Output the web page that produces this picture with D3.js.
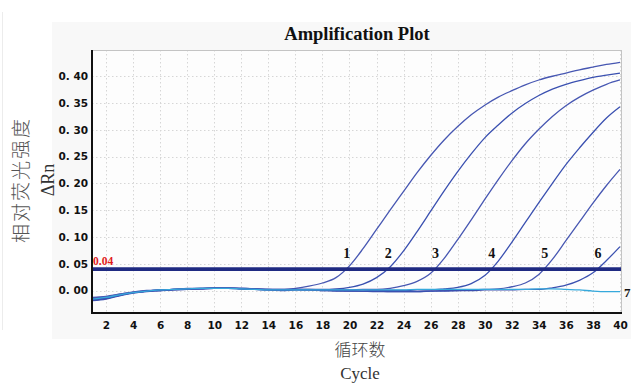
<!DOCTYPE html>
<html>
<head>
<meta charset="utf-8">
<script src="https://cdn.jsdelivr.net/npm/d3@7/dist/d3.min.js"></script>
<style>
  html, body { margin: 0; padding: 0; background: #ffffff; }
  svg { display: block; }
</style>
</head>
<body>
<svg id="chart" width="631" height="383"></svg>
<script>
// Amplification curves, ΔRn per cycle (cycles 1..40)
const cycles = d3.range(1, 41);
const sample1 = [-0.013,-0.011,-0.007,-0.003,-0.001,0.001,0.002,0.003,0.003,0.004,0.004,0.003,0.002,0.002,0.002,0.004,0.008,0.014,0.024,0.046,0.078,0.114,0.150,0.185,0.220,0.252,0.281,0.306,0.328,0.346,0.361,0.373,0.384,0.393,0.400,0.406,0.412,0.417,0.422,0.426];
const sample2 = [-0.019,-0.016,-0.010,-0.005,-0.002,0.000,0.001,0.002,0.003,0.004,0.004,0.004,0.003,0.002,0.001,0.002,0.002,0.002,0.003,0.006,0.012,0.024,0.044,0.074,0.110,0.148,0.186,0.222,0.255,0.285,0.309,0.331,0.349,0.364,0.376,0.385,0.392,0.398,0.402,0.406];
const sample3 = [-0.015,-0.013,-0.008,-0.004,-0.001,0.001,0.002,0.003,0.004,0.005,0.005,0.003,0.002,0.001,0.001,0.002,0.002,0.001,0.001,0.001,0.002,0.002,0.004,0.009,0.017,0.032,0.060,0.095,0.132,0.170,0.207,0.242,0.274,0.301,0.325,0.345,0.361,0.374,0.385,0.393];
const sample4 = [-0.017,-0.014,-0.009,-0.004,-0.001,0.000,0.002,0.003,0.004,0.004,0.004,0.004,0.003,0.002,0.002,0.002,0.001,0.000,0.000,-0.001,-0.001,0.000,0.000,0.000,0.001,0.001,0.003,0.006,0.013,0.028,0.055,0.090,0.127,0.164,0.200,0.235,0.266,0.295,0.322,0.343];
const sample5 = [-0.014,-0.012,-0.007,-0.003,0.000,0.001,0.002,0.004,0.004,0.005,0.005,0.004,0.003,0.001,0.000,0.001,0.001,0.000,-0.001,-0.001,-0.001,-0.001,-0.002,-0.002,-0.002,-0.001,0.000,0.000,0.001,0.002,0.003,0.007,0.014,0.030,0.058,0.093,0.128,0.163,0.196,0.226];
const sample6 = [-0.018,-0.015,-0.009,-0.004,-0.001,0.000,0.001,0.002,0.003,0.004,0.004,0.003,0.002,0.001,0.001,0.001,0.001,0.001,0.000,0.000,-0.001,-0.002,-0.002,-0.002,-0.002,-0.001,-0.001,0.000,0.000,0.001,0.001,0.001,0.002,0.002,0.005,0.010,0.019,0.033,0.056,0.082];
const sample7 = [-0.016,-0.013,-0.008,-0.004,-0.001,0.001,0.002,0.003,0.004,0.004,0.004,0.003,0.002,0.001,0.001,0.001,0.001,0.001,0.001,0.001,0.001,0.001,0.001,0.001,0.002,0.002,0.002,0.002,0.002,0.002,0.002,0.002,0.002,0.003,0.003,0.002,0.001,-0.001,-0.002,-0.002];

const sampleNames = ["1", "2", "3", "4", "5", "6", "7"];
const sampleValues = [sample1, sample2, sample3, sample4, sample5, sample6, sample7];
const sampleColors = ["#4757b2", "#3a50b0", "#4757b2", "#3a50b0", "#4757b2", "#3a50b0", "#36a9dc"];

const threshold = 0.04;
const xTicks = d3.range(2, 41, 2);
const yTicks = [0.00, 0.05, 0.10, 0.15, 0.20, 0.25, 0.30, 0.35, 0.40];

const svg = d3.select("#chart");

// Plot geometry
const plot = { left: 92, right: 621, top: 50, bottom: 313 };

const x = d3.scaleLinear().domain([1, 40]).range([plot.left + 0.5, plot.right - 1]);
const y = d3.scaleLinear().domain([-0.042, 0.449]).range([plot.bottom, plot.top]);

// Light panel behind the plot
svg.append("line")
  .attr("x1", 2.5).attr("x2", 2.5).attr("y1", 12).attr("y2", 330)
  .attr("stroke", "#ececec").attr("stroke-width", 1);
svg.append("rect")
  .attr("x", 52).attr("y", 22).attr("width", 579).attr("height", 317)
  .attr("fill", "#f8f8f8");
svg.append("rect")
  .attr("x", plot.left).attr("y", plot.top)
  .attr("width", plot.right - plot.left).attr("height", plot.bottom - plot.top)
  .attr("fill", "#fdfdfd");

// Dotted grid
const grid = svg.append("g").attr("stroke", "#d6d6d6").attr("stroke-width", 1).attr("stroke-dasharray", "1.5,2.5");
grid.selectAll(".gx").data(xTicks).join("line")
  .attr("x1", d => Math.round(x(d)) + 0.5).attr("x2", d => Math.round(x(d)) + 0.5)
  .attr("y1", plot.top).attr("y2", plot.bottom);
grid.selectAll(".gy").data(yTicks).join("line")
  .attr("x1", plot.left).attr("x2", plot.right)
  .attr("y1", d => Math.round(y(d)) + 0.5).attr("y2", d => Math.round(y(d)) + 0.5);

// Title
svg.append("text")
  .attr("x", 357).attr("y", 40)
  .attr("text-anchor", "middle")
  .attr("font-family", "'Liberation Serif', 'DejaVu Serif', serif")
  .attr("font-weight", "bold")
  .attr("font-size", 18.5)
  .attr("fill", "#111")
  .text("Amplification Plot");

// Curves
svg.append("clipPath").attr("id", "plotClip")
  .append("rect")
  .attr("x", plot.left).attr("y", plot.top)
  .attr("width", plot.right - plot.left).attr("height", plot.bottom - plot.top);

const line = d3.line()
  .x((d, i) => x(cycles[i]))
  .y(d => y(d))
  .curve(d3.curveMonotoneX);

const curves = svg.append("g").attr("clip-path", "url(#plotClip)");
curves.selectAll("path").data(sampleValues).join("path")
  .attr("d", d => line(d))
  .attr("fill", "none")
  .attr("stroke", (d, i) => sampleColors[i])
  .attr("stroke-width", 1.3);

// Threshold line and its value
svg.append("line")
  .attr("x1", plot.left).attr("x2", plot.right)
  .attr("y1", y(threshold)).attr("y2", y(threshold))
  .attr("stroke", "#1f2a82").attr("stroke-width", 3.8);
svg.append("text")
  .attr("x", plot.left + 1).attr("y", y(threshold) - 4)
  .attr("font-family", "'Liberation Serif', serif")
  .attr("font-weight", "bold")
  .attr("font-size", 11.5)
  .attr("fill", "#e01b1b")
  .text(d3.format(".2f")(threshold));

// Curve labels at the threshold crossing; the flat sample is labelled at its end
function crossing(vals) {
  for (let i = 1; i < vals.length; i++) {
    if (vals[i - 1] < threshold && vals[i] >= threshold) {
      const t = (threshold - vals[i - 1]) / (vals[i] - vals[i - 1]);
      return cycles[i - 1] + t;
    }
  }
  return null;
}
const labelFont = "'Liberation Serif', 'DejaVu Serif', serif";
sampleValues.forEach((vals, i) => {
  const ct = crossing(vals);
  if (ct !== null) {
    svg.append("text")
      .attr("x", x(ct) + 1).attr("y", y(threshold) - 11)
      .attr("text-anchor", "middle")
      .attr("font-family", labelFont)
      .attr("font-weight", "bold")
      .attr("font-size", 14)
      .attr("fill", "#111")
      .text(sampleNames[i]);
  } else {
    svg.append("text")
      .attr("x", plot.right + 3).attr("y", y(vals[vals.length - 1]) + 5)
      .attr("font-family", labelFont)
      .attr("font-weight", "bold")
      .attr("font-size", 13)
      .attr("fill", "#111")
      .text(sampleNames[i]);
  }
});

// Axes
const tickFont = "'DejaVu Sans', sans-serif";
const xAxis = svg.append("g")
  .attr("transform", `translate(0,${plot.bottom})`)
  .call(d3.axisBottom(x).tickValues(xTicks).tickSize(0).tickPadding(9).tickFormat(d3.format("d")));
xAxis.select(".domain").remove();
xAxis.selectAll("text")
  .attr("font-family", tickFont).attr("font-weight", "bold").attr("font-size", 10.5).attr("fill", "#111");

const yAxis = svg.append("g")
  .attr("transform", `translate(${plot.left},0)`)
  .call(d3.axisLeft(y).tickValues(yTicks).tickSize(0).tickPadding(4)
    .tickFormat(d => d3.format(".2f")(d).replace(".", ". ")));
yAxis.select(".domain").remove();
yAxis.selectAll("text")
  .attr("font-family", tickFont).attr("font-weight", "bold").attr("font-size", 10.5).attr("fill", "#111");

// Frame: grey top/right, black left/bottom
svg.append("line").attr("x1", plot.left).attr("x2", plot.right).attr("y1", plot.top + 0.5).attr("y2", plot.top + 0.5)
  .attr("stroke", "#c4c4c4").attr("stroke-width", 1);
svg.append("line").attr("x1", plot.right + 0.5).attr("x2", plot.right + 0.5).attr("y1", plot.top).attr("y2", plot.bottom)
  .attr("stroke", "#c4c4c4").attr("stroke-width", 1);
svg.append("line").attr("x1", plot.left).attr("x2", plot.left).attr("y1", plot.top).attr("y2", plot.bottom + 1)
  .attr("stroke", "#111").attr("stroke-width", 2);
svg.append("line").attr("x1", plot.left - 1).attr("x2", plot.right + 1).attr("y1", plot.bottom).attr("y2", plot.bottom)
  .attr("stroke", "#111").attr("stroke-width", 2);

// Axis titles
svg.append("text")
  .attr("x", 360).attr("y", 356)
  .attr("text-anchor", "middle")
  .attr("font-family", "'Noto Sans CJK SC', sans-serif")
  .attr("font-weight", 300)
  .attr("font-size", 17)
  .attr("fill", "#444")
  .text("循环数");
svg.append("text")
  .attr("x", 360).attr("y", 379)
  .attr("text-anchor", "middle")
  .attr("font-family", "'Liberation Serif', serif")
  .attr("font-size", 17)
  .attr("fill", "#333")
  .text("Cycle");

svg.append("text")
  .attr("transform", "translate(28,180) rotate(-90)")
  .attr("text-anchor", "middle")
  .attr("font-family", "'Noto Sans CJK SC', sans-serif")
  .attr("font-weight", 300)
  .attr("font-size", 19)
  .attr("letter-spacing", 2)
  .attr("fill", "#555")
  .text("相对荧光强度");
svg.append("text")
  .attr("transform", "translate(54,180) rotate(-90)")
  .attr("text-anchor", "middle")
  .attr("font-family", "'Liberation Serif', serif")
  .attr("font-size", 18)
  .attr("fill", "#333")
  .text("ΔRn");
</script>
</body>
</html>
